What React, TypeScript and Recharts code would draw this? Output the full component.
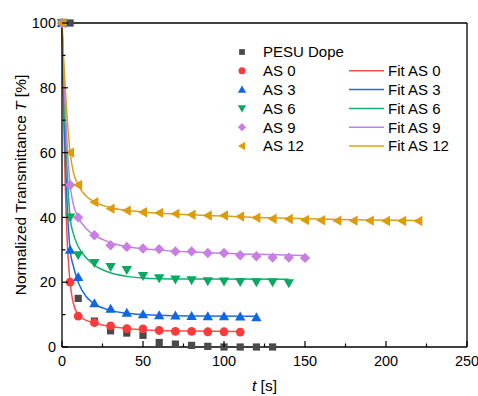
import { ComposedChart, Line, Scatter, XAxis, YAxis } from 'recharts';

// measured time points [s]
const pesuT = [0, 5, 10, 20, 30, 40, 50, 60, 70, 80, 90, 100, 110, 120, 130];
const as0T = [0, 5, 10, 20, 30, 40, 50, 60, 70, 80, 90, 100, 110];
const as3T = [0, 5, 10, 20, 30, 40, 50, 60, 70, 80, 90, 100, 110, 120];
const as6T = [0, 5, 10, 20, 30, 40, 50, 60, 70, 80, 90, 100, 110, 120, 130, 140];
const as9T = [0, 5, 10, 20, 30, 40, 50, 60, 70, 80, 90, 100, 110, 120, 130, 140, 150];
const as12T = [0, 5, 10, 20, 30, 40, 50, 60, 70, 80, 90, 100, 110, 120, 130, 140, 150, 160, 170, 180, 190, 200, 210, 220];

// normalized transmittance [%]
const pesuVals = [100, 100, 15, 8, 5, 4.3, 3.6, 1.4, 0.9, 0.5, 0.2, 0, 0, 0, 0];
const as0Vals = [100, 20, 9.5, 7.5, 6.5, 5.7, 5.6, 5.1, 4.8, 4.8, 4.7, 4.7, 4.6];
const as3Vals = [100, 30, 21.6, 13.5, 11.8, 10.6, 10.1, 9.8, 9.7, 9.6, 9.5, 9.5, 9.4, 9.2];
const as6Vals = [100, 40, 28.3, 25.9, 24.7, 23.8, 21.9, 21.2, 20.8, 20.6, 20.3, 20.2, 20.1, 20.0, 20.0, 19.7];
const as9Vals = [100, 50, 40, 34.5, 31.4, 30.9, 30.4, 30.2, 29.5, 29.5, 29.0, 29.0, 28.3, 28.0, 27.6, 27.6, 27.5];
const as12Vals = [100, 60, 50, 44.7, 42.7, 42.1, 41.6, 41.4, 41.1, 40.8, 40.6, 40.6, 40.3, 39.9, 39.6, 39.5, 39.2, 39.1, 39.0, 39.0, 39.0, 38.9, 38.9, 38.9];

// fit curves
const fit0T = [0, 1, 2, 3, 5, 7, 10, 15, 20, 30, 40, 50, 60, 80, 110];
const fit0Vals = [100, 72, 50, 35, 20, 13.5, 10, 8.2, 7.4, 6.3, 5.7, 5.3, 5.1, 4.9, 4.8];
const fit3T = [0, 1, 2, 3, 5, 7, 10, 15, 20, 30, 40, 50, 60, 80, 120];
const fit3Vals = [100, 78, 60, 46, 30, 25, 20, 15.5, 13.3, 11.3, 10.4, 10.0, 9.8, 9.6, 9.5];
const fit6T = [0, 1, 2, 3, 5, 7, 10, 15, 20, 30, 40, 50, 60, 80, 140];
const fit6Vals = [100, 82, 68, 56, 40, 35, 31, 27.5, 25.3, 22.9, 21.8, 21.3, 21.1, 21.0, 20.9];
const fit9T = [0, 1, 2, 3, 5, 7, 10, 15, 20, 30, 40, 50, 60, 80, 100, 120, 150];
const fit9Vals = [100, 86, 74, 64, 50, 44, 40, 36.5, 34.5, 32.2, 31.0, 30.3, 29.9, 29.3, 28.9, 28.6, 28.2];
const fit12T = [0, 1, 2, 3, 5, 7, 10, 15, 20, 30, 40, 50, 60, 80, 100, 120, 150, 180, 220];
const fit12Vals = [100, 89, 80, 72, 60, 54, 50, 46.5, 44.8, 43.0, 42.2, 41.7, 41.3, 40.8, 40.4, 40.0, 39.6, 39.3, 39.0];

const xTicks = [0, 25, 50, 75, 100, 125, 150, 175, 200, 225, 250];
const yTicks = [0, 10, 20, 30, 40, 50, 60, 70, 80, 90, 100];

const FONT = '"Liberation Sans", Arial, sans-serif';

const pts = (t: number[], v: number[]) => t.map((x, i) => ({ t: x, y: v[i] }));

type MarkerKind = 'square' | 'circle' | 'up' | 'down' | 'diamond' | 'left';

const Marker = ({ kind, cx, cy, color }: { kind: MarkerKind; cx: number; cy: number; color: string }) => {
    if (cx == null || cy == null) return null;
    switch (kind) {
        case 'square':
            return <rect x={cx - 3.6} y={cy - 3.6} width={7.2} height={7.2} fill={color} />;
        case 'circle':
            return <circle cx={cx} cy={cy} r={4.4} fill={color} />;
        case 'up':
            return <polygon points={`${cx},${cy - 5} ${cx + 5.2},${cy + 4} ${cx - 5.2},${cy + 4}`} fill={color} />;
        case 'down':
            return <polygon points={`${cx},${cy + 5} ${cx + 5.2},${cy - 4} ${cx - 5.2},${cy - 4}`} fill={color} />;
        case 'diamond':
            return <polygon points={`${cx},${cy - 5.2} ${cx + 5.2},${cy} ${cx},${cy + 5.2} ${cx - 5.2},${cy}`} fill={color} />;
        case 'left':
            return <polygon points={`${cx - 5},${cy} ${cx + 4},${cy - 5.2} ${cx + 4},${cy + 5.2}`} fill={color} />;
    }
    return null;
};

const series = [
    { name: 'PESU Dope', kind: 'square' as MarkerKind, color: '#4a4a4a', data: pts(pesuT, pesuVals) },
    { name: 'AS 0', kind: 'circle' as MarkerKind, color: '#fb3b3b', data: pts(as0T, as0Vals) },
    { name: 'AS 3', kind: 'up' as MarkerKind, color: '#1166e2', data: pts(as3T, as3Vals) },
    { name: 'AS 6', kind: 'down' as MarkerKind, color: '#0aa860', data: pts(as6T, as6Vals) },
    { name: 'AS 9', kind: 'diamond' as MarkerKind, color: '#c87ee2', data: pts(as9T, as9Vals) },
    { name: 'AS 12', kind: 'left' as MarkerKind, color: '#dc9b08', data: pts(as12T, as12Vals) },
];

const fits = [
    { name: 'Fit AS 0', color: '#f55050', data: pts(fit0T, fit0Vals) },
    { name: 'Fit AS 3', color: '#1a6fdf', data: pts(fit3T, fit3Vals) },
    { name: 'Fit AS 6', color: '#16b070', data: pts(fit6T, fit6Vals) },
    { name: 'Fit AS 9', color: '#c280e0', data: pts(fit9T, fit9Vals) },
    { name: 'Fit AS 12', color: '#dc9f1c', data: pts(fit12T, fit12Vals) },
];

const BottomTick = ({ x, y, payload }: any) => {
    const major = payload.value % 50 === 0;
    const axisY = y - 9;
    return (
        <g>
            <line x1={x} x2={x} y1={axisY} y2={axisY - (major ? 6 : 3.5)} stroke="#000" strokeWidth={1.2} />
            {major && (
                <text x={x} y={y} dy="0.71em" textAnchor="middle" fontSize={14.5} fontFamily={FONT} fill="#000">
                    {payload.value}
                </text>
            )}
        </g>
    );
};

const TopTick = ({ x, y, payload }: any) => {
    const major = payload.value % 50 === 0;
    return <line x1={x} x2={x} y1={y} y2={y + (major ? 6 : 3.5)} stroke="#000" strokeWidth={1.2} />;
};

const LeftTick = ({ x, y, payload }: any) => {
    const major = payload.value % 20 === 0;
    const axisX = x + 6;
    return (
        <g>
            <line x1={axisX} x2={axisX + (major ? 6 : 3.5)} y1={y} y2={y} stroke="#000" strokeWidth={1.2} />
            {major && (
                <text x={x} y={y} dy="0.36em" textAnchor="end" fontSize={14.5} fontFamily={FONT} fill="#000">
                    {payload.value}
                </text>
            )}
        </g>
    );
};

const RightTick = ({ x, y, payload }: any) => {
    const major = payload.value % 20 === 0;
    return <line x1={x} x2={x - (major ? 6 : 3.5)} y1={y} y2={y} stroke="#000" strokeWidth={1.2} />;
};

const Legend = () => {
    const rowY = (i: number) => 52 + i * 18.8;
    return (
        <svg width={478} height={396} style={{ position: 'absolute', left: 0, top: 0, pointerEvents: 'none' }}>
            {series.map((s, i) => (
                <g key={s.name}>
                    <g transform={`translate(${242},${rowY(i)}) scale(0.8) translate(${-242},${-rowY(i)})`}>
                        <Marker kind={s.kind} cx={242} cy={rowY(i)} color={s.color} />
                    </g>
                    <text x={263} y={rowY(i)} dy="0.36em" fontSize={15} fontFamily={FONT} fill="#000">
                        {s.name}
                    </text>
                </g>
            ))}
            {fits.map((f, i) => (
                <g key={f.name}>
                    <line x1={349} x2={384} y1={rowY(i + 1)} y2={rowY(i + 1)} stroke={f.color} strokeWidth={1.5} />
                    <text x={388} y={rowY(i + 1)} dy="0.36em" fontSize={15} fontFamily={FONT} fill="#000">
                        {f.name}
                    </text>
                </g>
            ))}
        </svg>
    );
};

export default function App() {
    const axisLine = { stroke: '#000', strokeWidth: 1.3 };
    return (
        <div style={{ position: 'absolute', left: 0, top: 0, width: 478, height: 396, background: '#fff' }}>
            <ComposedChart width={478} height={396} margin={{ top: 22, right: 10, left: 12, bottom: 19 }}>
                <XAxis
                    dataKey="t"
                    type="number"
                    domain={[0, 250]}
                    ticks={xTicks}
                    interval={0}
                    height={30}
                    tickSize={0}
                    tickMargin={9}
                    tickLine={false}
                    axisLine={axisLine}
                    tick={<BottomTick />}
                    label={{
                        content: () => (
                            <text x={264.5} y={391} textAnchor="middle" fontSize={15.5} fontFamily={FONT} fill="#000">
                                <tspan fontStyle="italic">t</tspan> [s]
                            </text>
                        ),
                    }}
                />
                <XAxis
                    xAxisId="top"
                    orientation="top"
                    dataKey="t"
                    type="number"
                    domain={[0, 250]}
                    ticks={xTicks}
                    interval={0}
                    height={1}
                    tickSize={0}
                    tickMargin={0}
                    tickLine={false}
                    axisLine={axisLine}
                    tick={<TopTick />}
                />
                <YAxis
                    type="number"
                    domain={[0, 100]}
                    ticks={yTicks}
                    interval={0}
                    width={50}
                    tickSize={0}
                    tickMargin={6}
                    tickLine={false}
                    axisLine={axisLine}
                    tick={<LeftTick />}
                    label={{
                        content: () => (
                            <text
                                x={20}
                                y={185}
                                transform="rotate(-90 20 185)"
                                textAnchor="middle"
                                dy="0.36em"
                                fontSize={15.5}
                                fontFamily={FONT}
                                fill="#000"
                            >
                                Normalized Transmittance <tspan fontStyle="italic">T</tspan> [%]
                            </text>
                        ),
                    }}
                />
                <YAxis
                    yAxisId="right"
                    orientation="right"
                    type="number"
                    domain={[0, 100]}
                    ticks={yTicks}
                    interval={0}
                    width={1}
                    tickSize={0}
                    tickMargin={0}
                    tickLine={false}
                    axisLine={axisLine}
                    tick={<RightTick />}
                />
                {fits.map((f) => (
                    <Line
                        key={f.name}
                        data={f.data}
                        dataKey="y"
                        type="monotone"
                        stroke={f.color}
                        strokeWidth={1.5}
                        dot={false}
                        activeDot={false}
                        isAnimationActive={false}
                    />
                ))}
                {series.map((s) => (
                    <Scatter
                        key={s.name}
                        data={s.data}
                        dataKey="y"
                        isAnimationActive={false}
                        shape={(p: any) => <Marker kind={s.kind} cx={p.cx} cy={p.cy} color={s.color} />}
                    />
                ))}
            </ComposedChart>
            <Legend />
        </div>
    );
}
